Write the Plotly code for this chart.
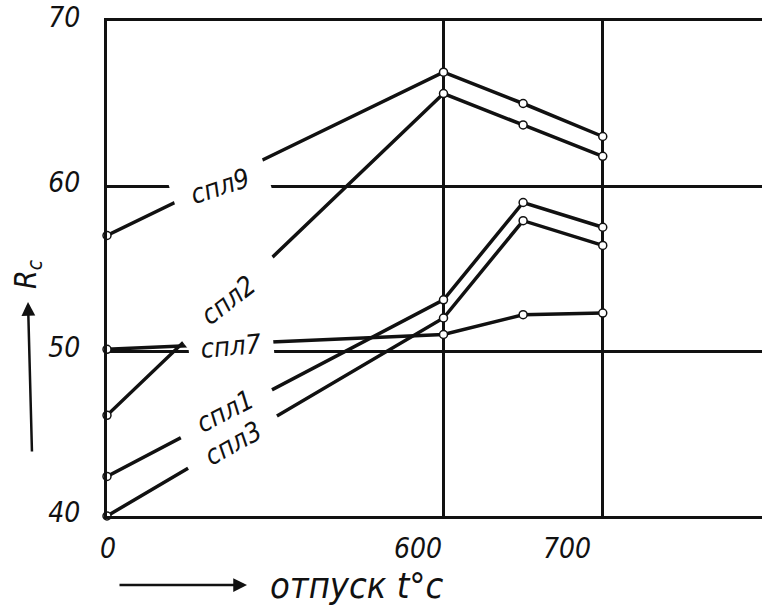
import plotly.graph_objects as go

# ---- data ----
temps = [0, 600, 650, 700]            # отпуск t°C
spl9 = [57.0, 66.9, 65.0, 63.0]
spl2 = [46.1, 65.6, 63.7, 61.8]
spl1 = [42.4, 53.1, 59.0, 57.5]
spl3 = [40.0, 52.0, 57.9, 56.4]
spl7 = [50.1, 51.0, 52.2, 52.3]
series_names = ["спл9", "спл2", "спл7", "спл1", "спл3"]
series_vals = [spl9, spl2, spl7, spl1, spl3]
x_ticks = [0, 600, 700]
x_tick_text = ["0", "600", "700"]
y_ticks = [40, 50, 60, 70]
y_tick_text = ["40", "50", "60", "70"]

# broken temperature scale: 0..600 is compressed
LOW = 211.3 / 600.0
def axis_pos(t):
    return t * LOW if t <= 600 else 600 * LOW + (t - 600)

W, H = 762, 606
ML, MR, MT, MB = 107, 0, 21, 90
PW, PH = W - ML - MR, H - MT - MB

def px(xp):   # pixel -> paper x
    return (xp - ML) / PW
def py(yp):   # pixel -> paper y
    return (H - MB - yp) / PH

FONT = "DejaVu Sans Condensed, DejaVu Sans, sans-serif"
INK = "#111111"

fig = go.Figure()
for name, vals in zip(series_names, series_vals):
    fig.add_trace(go.Scatter(
        x=[axis_pos(t) for t in temps], y=vals, name=name,
        mode="lines+markers",
        line=dict(color=INK, width=3.5),
        marker=dict(symbol="circle", size=8, color="white",
                    line=dict(color=INK, width=1.5)),
        showlegend=False, cliponaxis=False,
    ))

annotations = []
# curve labels with white boxes that break lines (as in the drawing)
label_style = {
    "спл9": dict(x=220, y=186, ang=-18, w=94, h=36),
    "спл2": dict(x=228, y=300, ang=-38, w=120, h=32),
    "спл7": dict(x=231, y=346, ang=-5, w=82, h=26),
    "спл1": dict(x=225, y=411, ang=-27, w=100, h=28),
    "спл3": dict(x=233, y=443, ang=-29, w=100, h=28),
}
for name in series_names:
    s = label_style[name]
    annotations.append(dict(
        xref="paper", yref="paper", x=px(s["x"]), y=py(s["y"]),
        xanchor="center", yanchor="middle",
        text=name, showarrow=False, textangle=s["ang"],
        width=s["w"], height=s["h"], bgcolor="white", align="center",
        font=dict(family=FONT, size=27, color=INK, style="italic"),
    ))

# x tick labels
x_lab_style = [dict(anchor="center", shift=1), dict(anchor="right", shift=0),
               dict(anchor="right", shift=-10)]
for t, txt, s in zip(x_ticks, x_tick_text, x_lab_style):
    annotations.append(dict(
        xref="x", yref="paper", x=axis_pos(t), y=py(548), xanchor=s["anchor"],
        xshift=s["shift"], yanchor="middle", text=txt, showarrow=False,
        font=dict(family=FONT, size=28, color=INK, style="italic"),
    ))

# axis titles with arrows
annotations.append(dict(xref="paper", yref="paper", x=px(28), y=py(302),
                        ax=4, ay=151, text="", showarrow=True, arrowhead=2,
                        arrowsize=1.1, arrowwidth=2.5, arrowcolor=INK))
annotations.append(dict(xref="paper", yref="paper", x=px(27), y=py(274),
                        xanchor="center", yanchor="middle",
                        text="R<sub>c</sub>", showarrow=False, textangle=-90,
                        font=dict(family=FONT, size=30, color=INK, style="italic")))
annotations.append(dict(xref="paper", yref="paper", x=px(247), y=py(585),
                        ax=-129, ay=0, text="", showarrow=True, arrowhead=2,
                        arrowsize=1.1, arrowwidth=2.5, arrowcolor=INK))
annotations.append(dict(xref="paper", yref="paper", x=px(357), y=py(585),
                        xanchor="center", yanchor="middle",
                        text="отпуск t°c", showarrow=False,
                        font=dict(family=FONT, size=36, color=INK, style="italic")))

fig.update_layout(
    width=W, height=H,
    margin=dict(l=ML, r=MR, t=MT, b=MB),
    paper_bgcolor="white", plot_bgcolor="white",
    annotations=annotations,
    xaxis=dict(range=[0, axis_pos(800)], tickvals=[axis_pos(t) for t in x_ticks],
               showticklabels=False, ticks="", showgrid=True, gridcolor=INK,
               gridwidth=3, zeroline=False, showline=True, linecolor=INK,
               linewidth=3, mirror=True),
    yaxis=dict(range=[40, 70], tickvals=y_ticks, ticktext=y_tick_text, ticks="",
               showgrid=True, gridcolor=INK, gridwidth=3, zeroline=False,
               showline=True, linecolor=INK, linewidth=3,
               ticklabelstandoff=18, ticklabelshift=-4,
               tickfont=dict(family=FONT, size=28, color=INK, style="italic")),
)

fig.write_html("out.html")
